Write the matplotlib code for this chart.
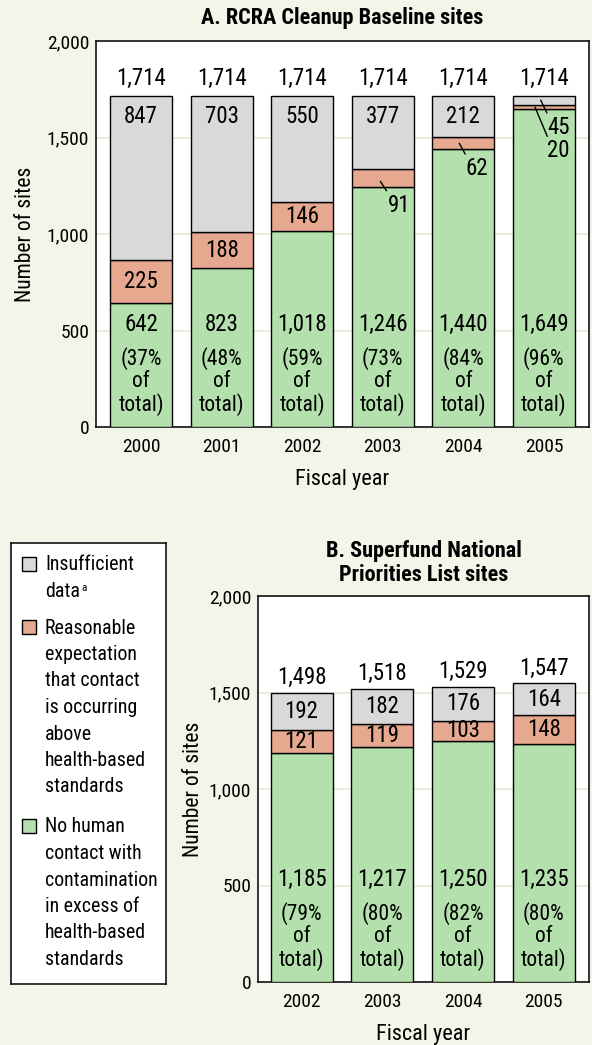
import matplotlib
matplotlib.use("Agg")
import matplotlib.pyplot as plt
from matplotlib import font_manager as fm
from matplotlib.patches import Rectangle

# pick a condensed sans that also has a bold cut
_weights = {}
for f in fm.fontManager.ttflist:
    w = f.weight if isinstance(f.weight, int) else 400
    _weights.setdefault(f.name, set()).add(w)
FONT = 'DejaVu Sans'
for cand in ['Liberation Sans Narrow', 'Roboto Condensed', 'Archivo Narrow',
             'PT Sans Narrow', 'Open Sans Condensed', 'Pragati Narrow']:
    if cand in _weights and max(_weights[cand]) >= 700:
        FONT = cand
        break
plt.rcParams['font.family'] = [FONT, 'DejaVu Sans']

# colours
BG = '#f2f6e8'
GRAY = '#d9d9d9'
SALMON = '#e6a88f'
GREEN = '#b3e0ac'
GRID = '#ebebe0'

# panel A: RCRA Cleanup Baseline sites
years_a = ['2000', '2001', '2002', '2003', '2004', '2005']
no_contact_a = [642, 823, 1018, 1246, 1440, 1649]
contact_a = [225, 188, 146, 91, 62, 20]
insufficient_a = [847, 703, 550, 377, 212, 45]
pct_a = [37, 48, 59, 73, 84, 96]

# panel B: Superfund NPL sites
years_b = ['2002', '2003', '2004', '2005']
no_contact_b = [1185, 1217, 1250, 1235]
contact_b = [121, 119, 103, 148]
insufficient_b = [192, 182, 176, 164]
pct_b = [79, 80, 82, 80]

yticks = [0, 500, 1000, 1500, 2000]

legend_labels = [
    ['Insufficient', 'data'],
    ['Reasonable', 'expectation', 'that contact', 'is occurring', 'above',
     'health-based', 'standards'],
    ['No human', 'contact with', 'contamination', 'in excess of',
     'health-based', 'standards'],
]

W, H = 592, 1045
NFS = 16.5   # numbers on bars
FS = 15      # words
LFS = 14.3   # legend
TFS = 14     # ticks


def px_axes(left, top, right, bottom):
    return [left / W, 1 - bottom / H, (right - left) / W, (bottom - top) / H]


def draw_panel(ax, years, green, salmon, gray, pct, title, xlim,
               total_off, centered, title_y):
    x = list(range(len(years)))
    mid = [g + s for g, s in zip(green, salmon)]
    totals = [m + r for m, r in zip(mid, gray)]
    kw = dict(width=0.77, edgecolor='black', linewidth=1.0, zorder=3)
    ax.bar(x, green, color=GREEN, **kw)
    ax.bar(x, salmon, bottom=green, color=SALMON, **kw)
    ax.bar(x, gray, bottom=mid, color=GRAY, **kw)

    ax.set_xlim(*xlim)
    ax.set_ylim(0, 2000)
    ax.set_yticks(yticks)
    ax.set_yticklabels([f'{t:,}' for t in yticks])
    ax.set_xticks(x)
    ax.set_xticklabels(years)
    ax.tick_params(axis='both', length=0, labelsize=TFS)
    ax.tick_params(axis='x', pad=8)
    ax.tick_params(axis='y', pad=5)
    ax.yaxis.grid(True, color=GRID, linewidth=1.5, zorder=0)
    ax.set_axisbelow(True)
    for sp in ax.spines.values():
        sp.set_linewidth(1.1)
    ax.set_facecolor('white')

    ax.set_xlabel('Fiscal year', fontsize=16, va='center')
    ax.xaxis.set_label_coords(0.5, -0.137)
    ax.set_ylabel('Number of sites', fontsize=15.5)
    ax.text(0.5, title_y, title, transform=ax.transAxes, ha='center',
            va='center', fontsize=16, fontweight='bold', linespacing=1.1)

    for i in x:
        ax.annotate(f'{totals[i]:,}', (i, totals[i]), xytext=(0, total_off),
                    textcoords='offset points', ha='center', va='center',
                    fontsize=NFS)
        ax.text(i, 532, f'{green[i]:,}', ha='center', va='center', fontsize=NFS, zorder=4)
        ax.text(i, 355, f'({pct[i]}%', ha='center', va='center', fontsize=FS + 0.5, zorder=4)
        ax.text(i, 237, 'of', ha='center', va='center', fontsize=FS + 0.5, zorder=4)
        ax.text(i, 116, 'total)', ha='center', va='center', fontsize=FS + 0.5, zorder=4)
        if i in centered:
            ax.text(i, green[i] + salmon[i] / 2, f'{salmon[i]}', ha='center',
                    va='center', fontsize=NFS, zorder=4)
    return totals


fig = plt.figure(figsize=(W / 100, H / 100), dpi=100, facecolor=BG)

# ---- panel A
ax1 = fig.add_axes(px_axes(96, 41, 589, 427))
tot_a = draw_panel(ax1, years_a, no_contact_a, contact_a, insufficient_a, pct_a,
                   'A. RCRA Cleanup Baseline sites', (-0.56, 5.56), 13,
                   centered=[0, 1, 2], title_y=1 + 23 / 386)
ax1.yaxis.set_label_coords(-0.122, 0.5)
for i in range(5):
    ax1.text(i, tot_a[i] - 106, f'{insufficient_a[i]}', ha='center',
             va='center', fontsize=NFS, zorder=4)

# callouts for the thin segments: (bar, line start dx, line start y, value, text pos)
line_kw = dict(arrowstyle='-', color='black', lw=1.0, shrinkA=0, shrinkB=0,
               relpos=(0.1, 0.9))
callouts = [
    (3, -0.03, no_contact_a[3] + 27, contact_a[3], (3.20, 1150)),
    (4, -0.05, no_contact_a[4] + 30, contact_a[4], (4.17, 1340)),
    (5, -0.11, no_contact_a[5] + 8, contact_a[5], (5.18, 1432)),
    (5, -0.04, no_contact_a[5] + contact_a[5] + 25, insufficient_a[5], (5.18, 1553)),
]
for i, dx, y0, val, (tx, ty) in callouts:
    ax1.annotate(f'{val}', (i + dx, y0), xytext=(tx, ty), ha='center',
                 va='center', fontsize=NFS, arrowprops=line_kw, zorder=5)

# ---- panel B
ax2 = fig.add_axes(px_axes(258, 596, 589, 982))
draw_panel(ax2, years_b, no_contact_b, contact_b, insufficient_b, pct_b,
           'B. Superfund National\nPriorities List sites', (-0.54, 3.56), 11,
           centered=[0, 1, 2, 3], title_y=1 + 33 / 386)
ax2.yaxis.set_label_coords(-0.163, 0.5)
for i in range(4):
    base = no_contact_b[i] + contact_b[i]
    ax2.text(i, base + insufficient_b[i] / 2, f'{insufficient_b[i]}',
             ha='center', va='center', fontsize=NFS, zorder=4)

# ---- legend
axl = fig.add_axes(px_axes(11, 543, 166, 984))
axl.set_xlim(0, 155)
axl.set_ylim(441, 0)
axl.set_xticks([])
axl.set_yticks([])
axl.set_facecolor('white')
for sp in axl.spines.values():
    sp.set_linewidth(1.1)

starts = [22, 85, 284]
for lines, y0, col in zip(legend_labels, starts, [GRAY, SALMON, GREEN]):
    axl.add_patch(Rectangle((11, y0 - 8), 14, 14, facecolor=col,
                            edgecolor='black', linewidth=1.0))
    for k, line in enumerate(lines):
        t = axl.text(34, y0 + k * 26.5, line, ha='left', va='center', fontsize=LFS)
        if line == 'data':
            axl.annotate('a', xy=(1, 1), xycoords=t, xytext=(0.8, -0.5),
                         textcoords='offset points', ha='left', va='top',
                         fontsize=8)

fig.savefig('out.png', dpi=100, facecolor=BG)
